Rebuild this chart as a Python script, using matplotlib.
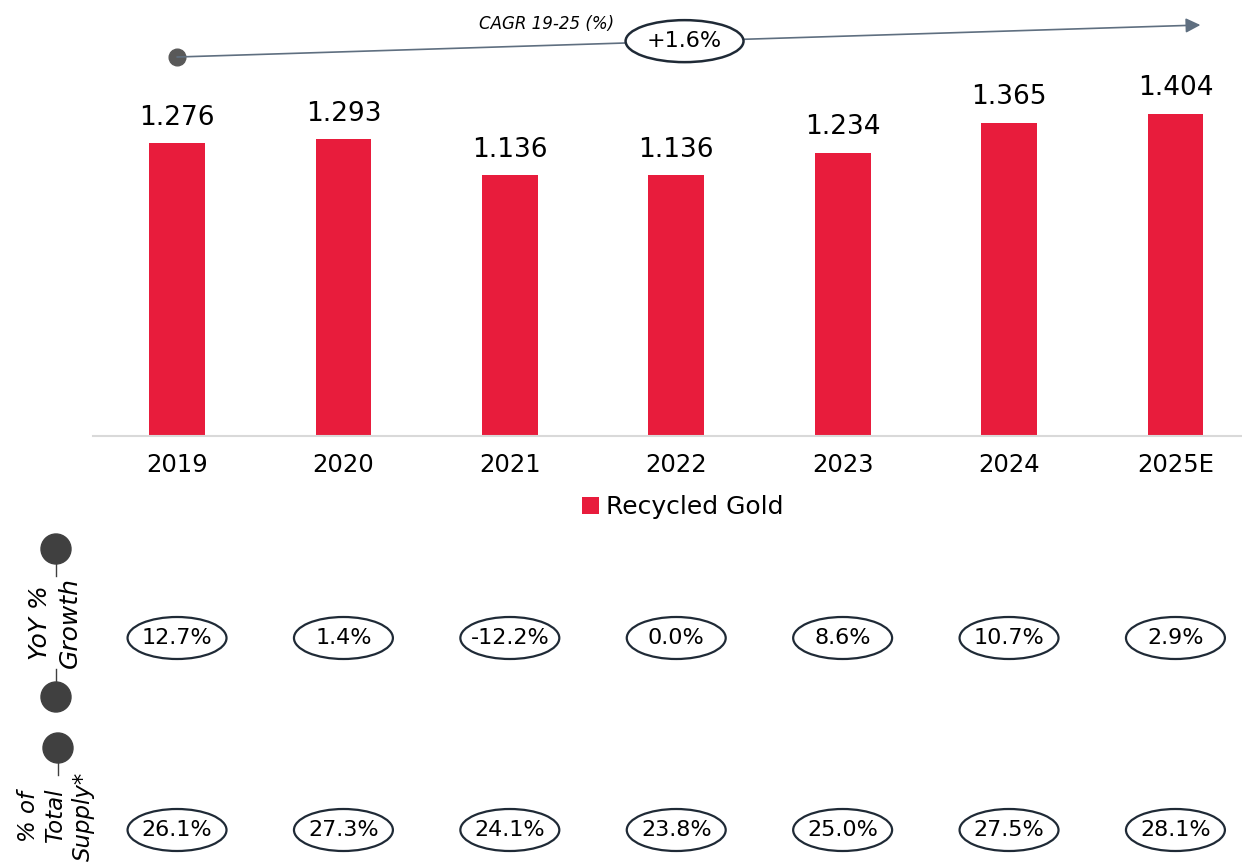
import matplotlib
matplotlib.use('Agg')
import matplotlib.pyplot as plt
from matplotlib.patches import Ellipse, Circle
from matplotlib.transforms import blended_transform_factory

years = ['2019', '2020', '2021', '2022', '2023', '2024', '2025E']
recycled = [1.276, 1.293, 1.136, 1.136, 1.234, 1.365, 1.404]
yoy = ['12.7%', '1.4%', '-12.2%', '0.0%', '8.6%', '10.7%', '2.9%']
share = ['26.1%', '27.3%', '24.1%', '23.8%', '25.0%', '27.5%', '28.1%']
cagr = '+1.6%'

RED = '#e81c3c'
DARK = '#1f2a36'

plt.rcParams['font.family'] = ['DejaVu Sans']

fig = plt.figure(figsize=(12.42, 8.66), dpi=100)

# overlay in pixel coords for the side decorations
deco = fig.add_axes([0, 0, 1, 1], zorder=0)
deco.set_xlim(0, 1242)
deco.set_ylim(866, 0)
deco.axis('off')

ax = fig.add_axes([93 / 1242, 1 - 436 / 866, 1 - 93 / 1242, 436 / 866], zorder=1)
ax.patch.set_alpha(0)
x = list(range(len(years)))
bars = ax.bar(x, recycled, width=0.335, color=RED, label='Recycled Gold')
ax.bar_label(bars, labels=['{:.3f}'.format(v) for v in recycled], padding=9, fontsize=19)
ax.set_xlim(-0.505, 6.4)
ax.set_ylim(0, 1.899)
ax.set_yticks([])
ax.set_xticks(x, years, fontsize=17.5)
ax.tick_params(axis='x', length=0, pad=12)
for s in ['top', 'right', 'left']:
    ax.spines[s].set_visible(False)
ax.spines['bottom'].set_color('#d9d9d9')
ax.spines['bottom'].set_linewidth(1.5)

ax.legend(loc='center', bbox_to_anchor=(683 / 1242, 1 - 507 / 866), bbox_transform=fig.transFigure,
          frameon=False, fontsize=18, handlelength=0.65, handleheight=0.65, handletextpad=0.3)

# CAGR arrow
y0 = (436 - 57) / 229.6
y1 = (436 - 25) / 229.6
ax.annotate('', xy=(6.15, y1), xytext=(0, y0),
            arrowprops=dict(arrowstyle='-|>', color='#5f6f80', lw=1.2, mutation_scale=22,
                            shrinkA=0, shrinkB=0), annotation_clip=False)
ax.plot([0], [y0], 'o', color='#595959', ms=12, clip_on=False)
mid_y = y0 + (y1 - y0) * (3.05 / 6.15)
ax.add_patch(Ellipse((3.05, mid_y), 118 / 166.5, 42 / 229.6, facecolor='white', edgecolor=DARK,
                     lw=1.8, clip_on=False, zorder=5))
ax.text(3.05, mid_y, cagr, ha='center', va='center', fontsize=16, zorder=6)
ax.text(2.22, (436 - 24) / 229.6, 'CAGR 19-25 (%)', ha='center', va='center', fontsize=12,
        style='italic')

# table rows
tr = blended_transform_factory(ax.transData, fig.transFigure)
for row, yc in [(yoy, 1 - 638 / 866), (share, 1 - 830 / 866)]:
    for i, t in enumerate(row):
        e = Ellipse((i, yc), 99 / 166.5, 42 / 866, transform=tr, facecolor='white',
                    edgecolor=DARK, lw=1.6, clip_on=False)
        fig.add_artist(e)
        fig.text(i, yc, t, transform=tr, ha='center', va='center', fontsize=16)

# side labels
for cx, cy in [(56, 549), (56, 697), (58, 748)]:
    deco.add_patch(Circle((cx, cy), 15, color='#404040'))
deco.plot([56, 56], [564, 576], color='#404040', lw=1)
deco.plot([56, 56], [669, 684], color='#404040', lw=1)
deco.plot([58, 58], [763, 775], color='#404040', lw=1)
deco.text(55, 623, 'YoY %\nGrowth', rotation=90, ha='center', va='center', fontsize=18,
          style='italic', multialignment='center', linespacing=1.3)
deco.text(56, 816, '% of\nTotal\nSupply*', rotation=90, ha='center', va='center', fontsize=16.5,
          style='italic', multialignment='center', linespacing=1.25)

fig.savefig('out.png', dpi=100)
